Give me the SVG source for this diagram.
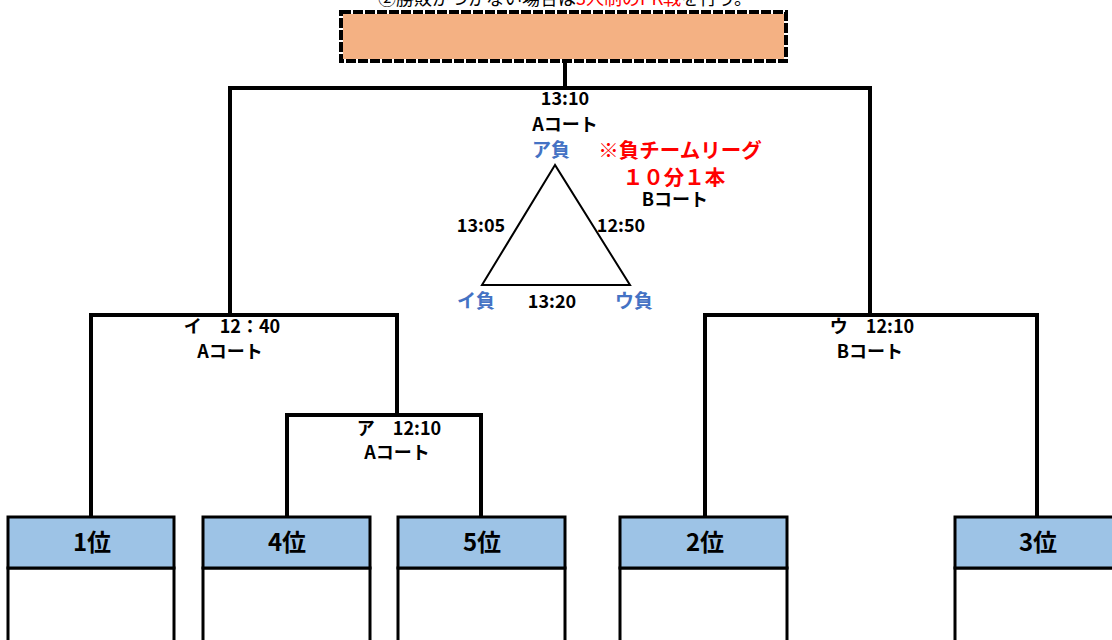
<svg xmlns="http://www.w3.org/2000/svg" width="1112" height="640" viewBox="0 0 1112 640">
<style>
.t{font-family:"Noto Sans CJK JP","Noto Sans",sans-serif;font-weight:bold;text-anchor:middle;fill:#000}
.s{font-size:18px}
.m{font-size:18px}
.b{fill:#4472C4;font-size:19px}
.r{fill:#FF0000;font-size:20.5px}
.hd{fill:#9DC3E6;stroke:#000;stroke-width:3}
.bd{fill:#fff;stroke:#000;stroke-width:3}
.ln{fill:none;stroke:#000;stroke-width:4}
</style>
<rect width="1112" height="640" fill="#fff"/>
<text x="565" y="5" style="font-family:'Noto Sans CJK JP',sans-serif;font-size:18px;text-anchor:middle">②勝敗がつかない場合は<tspan fill="#FF0000">3人制のPK戦</tspan>を行う。</text>
<g id="final">
<rect x="341" y="12" width="445" height="49" fill="#F4B183" stroke="#fff" stroke-width="4"/>
<rect x="341" y="12" width="445" height="49" fill="none" stroke="#000" stroke-width="4" stroke-dasharray="10 2"/>
</g>
<g id="connectors">
<path class="ln" d="M565 61V88M230 315V88H870V315"/>
<path class="ln" d="M91 517V315H397V415M287 517V415H481V517"/>
<path class="ln" d="M705 517V315H1037V517"/>
</g>
<g id="league">
<polygon points="555,165 482,285 630,285" fill="none" stroke="#000" stroke-width="2"/>
<text class="t s" x="565" y="105">13:10</text>
<text class="t s" x="565" y="131">Aコート</text>
<text class="t b" x="551" y="157">ア負</text>
<text class="t r" x="680" y="158">※負チームリーグ</text>
<text class="t r" x="674" y="185">１０分１本</text>
<text class="t s" x="675" y="206">Bコート</text>
<text class="t s" x="481" y="232">13:05</text>
<text class="t s" x="621" y="232">12:50</text>
<text class="t b" x="476" y="308">イ負</text>
<text class="t s" x="552" y="308">13:20</text>
<text class="t b" x="634" y="308">ウ負</text>
</g>
<g id="match-i">
<text class="t m" x="232" y="333">イ　12：40</text>
<text class="t m" x="230" y="358">Aコート</text>
</g>
<g id="match-a">
<text class="t m" x="399" y="435">ア　12:10</text>
<text class="t m" x="397" y="459">Aコート</text>
</g>
<g id="match-u">
<text class="t m" x="872" y="333">ウ　12:10</text>
<text class="t m" x="870" y="358">Bコート</text>
</g>
<g id="rank1"><rect class="bd" x="8" y="568" width="166" height="90"/><rect class="hd" x="8" y="517" width="166" height="51"/><text class="t" x="92" y="551" font-size="24">1位</text></g>
<g id="rank4"><rect class="bd" x="203" y="568" width="167" height="90"/><rect class="hd" x="203" y="517" width="167" height="51"/><text class="t" x="287" y="551" font-size="24">4位</text></g>
<g id="rank5"><rect class="bd" x="398" y="568" width="167" height="90"/><rect class="hd" x="398" y="517" width="167" height="51"/><text class="t" x="482" y="551" font-size="24">5位</text></g>
<g id="rank2"><rect class="bd" x="620" y="568" width="167" height="90"/><rect class="hd" x="620" y="517" width="167" height="51"/><text class="t" x="705" y="551" font-size="24">2位</text></g>
<g id="rank3"><rect class="bd" x="955" y="568" width="170" height="90"/><rect class="hd" x="955" y="517" width="170" height="51"/><text class="t" x="1038" y="551" font-size="24">3位</text></g>
</svg>
